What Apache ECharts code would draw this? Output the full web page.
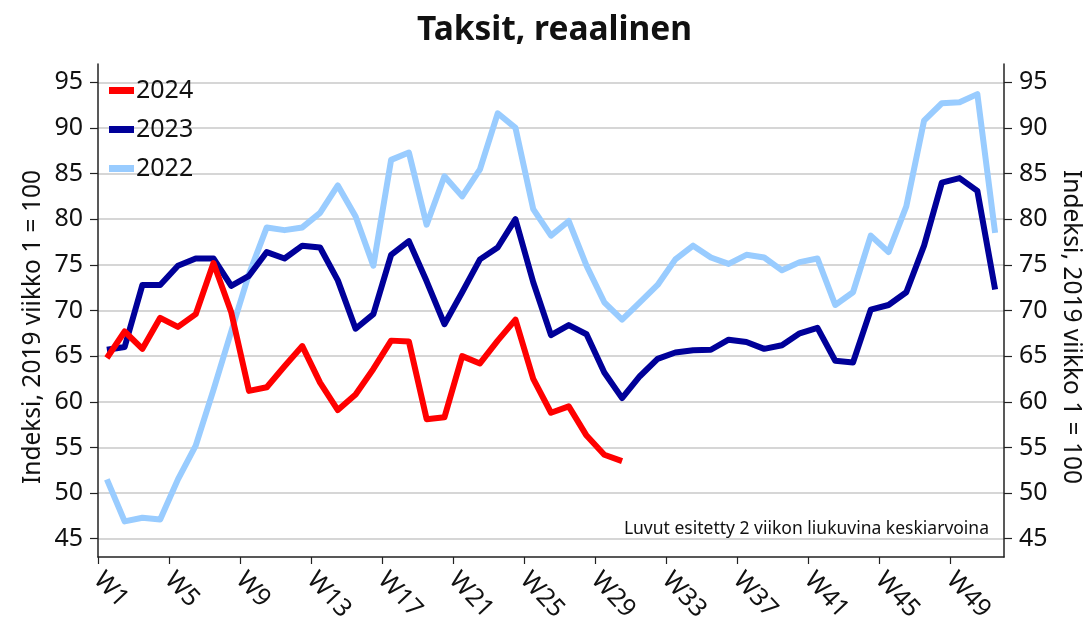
<!DOCTYPE html>
<html><head><meta charset="utf-8">
<script src="https://cdn.jsdelivr.net/npm/echarts@6/dist/echarts.min.js"></script>
<style>html,body{margin:0;padding:0;background:#fff}#c{width:1087px;height:631px}</style>
</head><body><div id="c"></div>
<script>
const weeks = ['W1','W2','W3','W4','W5','W6','W7','W8','W9','W10','W11','W12','W13','W14','W15','W16','W17','W18','W19','W20','W21','W22','W23','W24','W25','W26','W27','W28','W29','W30','W31','W32','W33','W34','W35','W36','W37','W38','W39','W40','W41','W42','W43','W44','W45','W46','W47','W48','W49','W50','W51'];
const xTickLabels = ['W1','W5','W9','W13','W17','W21','W25','W29','W33','W37','W41','W45','W49'];
const yTicks = [45,50,55,60,65,70,75,80,85,90,95];
const s2024 = [64.8,67.7,65.8,69.2,68.2,69.6,75.2,69.8,61.2,61.6,63.9,66.1,62.1,59.1,60.8,63.6,66.7,66.6,58.1,58.3,65.0,64.2,66.7,69.0,62.5,58.8,59.5,56.3,54.2,53.5];
const s2023 = [65.7,66.0,72.8,72.8,74.9,75.7,75.7,72.7,73.8,76.4,75.7,77.1,76.9,73.3,68.0,69.6,76.1,77.6,73.2,68.5,72.0,75.6,76.9,80.0,73.1,67.3,68.4,67.4,63.2,60.4,62.8,64.7,65.4,65.65,65.7,66.8,66.55,65.8,66.2,67.5,68.1,64.5,64.3,70.1,70.6,72.0,77.1,84.0,84.5,83.1,72.3];
const s2022 = [51.5,46.9,47.3,47.1,51.5,55.2,61.3,67.7,74.0,79.1,78.8,79.1,80.7,83.7,80.3,74.9,86.5,87.3,79.4,84.7,82.5,85.45,91.6,90.0,81.1,78.2,79.8,74.9,70.9,69.0,70.9,72.8,75.6,77.1,75.8,75.1,76.1,75.8,74.4,75.3,75.7,70.6,72.0,78.2,76.4,81.4,90.8,92.7,92.8,93.7,78.5];
const seriesNames = ['2024','2023','2022'];
const seriesColors = ['#ff0000','#000099','#99ccff'];

const FONT = '"Noto Sans", "Open Sans", sans-serif';
// points sit in the middle of each week slot; ticks mark slot boundaries
const toPoints = arr => arr.map((v, i) => [i + 0.5, v]);
const xTickValues = xTickLabels.map(w => weeks.indexOf(w));

const chart = echarts.init(document.getElementById('c'), null, {renderer: 'canvas'});
const yAxisCommon = {
  type: 'value', min: 43, max: 97,
  axisLine: {show: true, lineStyle: {color: '#222', width: 1.5}},
  axisTick: {show: true, length: 8, customValues: yTicks, lineStyle: {color: '#222', width: 1.2}},
  axisLabel: {customValues: yTicks, fontSize: 25, color: '#111', fontFamily: FONT},
};
chart.setOption({
  animation: false,
  backgroundColor: '#fff',
  title: {
    text: 'Taksit, reaalinen', left: 412, top: 8,
    textStyle: {fontSize: 33.5, fontWeight: 'bold', color: '#111', fontFamily: FONT}
  },
  grid: {left: 98, right: 83, top: 64, bottom: 74, containLabel: false},
  legend: {
    data: seriesNames, orient: 'vertical', left: 104, top: 73, itemGap: 14,
    icon: 'rect', itemWidth: 25, itemHeight: 7,
    textStyle: {fontSize: 25, color: '#111', fontFamily: FONT, padding: [0,0,0,-3]}
  },
  xAxis: {
    type: 'value', min: 0, max: weeks.length,
    axisLine: {show: true, onZero: false, lineStyle: {color: '#222', width: 1.5}},
    axisTick: {show: true, length: 7, customValues: xTickValues, lineStyle: {color: '#222', width: 1.2}},
    axisLabel: {customValues: xTickValues, rotate: -47, margin: 19, fontSize: 25, color: '#111', fontFamily: FONT,
      formatter: v => weeks[Math.round(v)]},
    splitLine: {show: false}
  },
  yAxis: [
    Object.assign({}, yAxisCommon, {position: 'left',
      axisLabel: Object.assign({}, yAxisCommon.axisLabel, {margin: 15}),
      splitLine: {show: true, lineStyle: {color: '#c8c8c8', width: 1.5}}}),
    Object.assign({}, yAxisCommon, {position: 'right',
      axisLabel: Object.assign({}, yAxisCommon.axisLabel, {margin: 15}),
      splitLine: {show: false}})
  ],
  graphic: [
    {type: 'text', rotation: Math.PI/2, x: 33, y: 327,
      style: {text: 'Indeksi, 2019 viikko 1 = 100', fontSize: 24.5, fill: '#111', fontFamily: FONT, textAlign: 'center', textVerticalAlign: 'middle'}},
    {type: 'text', rotation: -Math.PI/2, x: 1071, y: 327,
      style: {text: 'Indeksi, 2019 viikko 1 = 100', fontSize: 24.5, fill: '#111', fontFamily: FONT, textAlign: 'center', textVerticalAlign: 'middle'}},
    {type: 'text', x: 989, y: 529,
      style: {text: 'Luvut esitetty 2 viikon liukuvina keskiarvoina', fontSize: 17.5, fill: '#111', fontFamily: FONT, textAlign: 'right', textVerticalAlign: 'middle'}}
  ],
  series: [
    {name: '2022', type: 'line', data: toPoints(s2022), symbol: 'none', z: 2,
      itemStyle: {color: seriesColors[2]}, lineStyle: {color: seriesColors[2], width: 6, join: 'round'}},
    {name: '2023', type: 'line', data: toPoints(s2023), symbol: 'none', z: 3,
      itemStyle: {color: seriesColors[1]}, lineStyle: {color: seriesColors[1], width: 6, join: 'round'}},
    {name: '2024', type: 'line', data: toPoints(s2024), symbol: 'none', z: 4,
      itemStyle: {color: seriesColors[0]}, lineStyle: {color: seriesColors[0], width: 6, join: 'round'}}
  ]
});
</script></body></html>
